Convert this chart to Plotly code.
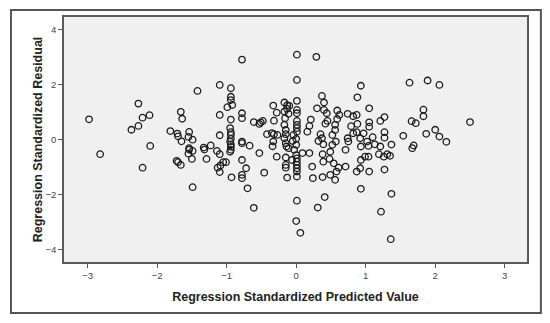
import plotly.graph_objects as go

# Regression Standardized Predicted Value (x) and Regression Standardized Residual (y)
pred = [
    -2.98, -2.82, -2.37, -2.27, -2.27, -2.21, -2.11, -2.10, -2.21,
    -1.81, -1.71, -1.70, -1.65, -1.66, -1.64, -1.54, -1.55, -1.49, -1.42,
    -1.54, -1.54, -1.49, -1.55, -1.50, -1.72, -1.70, -1.66, -1.49,
    -1.33, -1.32, -1.23, -1.29, -1.14, -1.10, -1.13, -1.09, -1.10, -1.05,
    -1.10, -1.10, -1.10,
    -0.94, -0.94, -0.94, -0.92, -0.99, -0.94, -0.95, -0.94, -0.94, -0.94,
    -0.95, -0.94, -0.94, -0.94, -0.95, -1.01, -0.93,
    -0.78, -0.78, -0.78, -0.78, -0.78, -0.67, -0.78, -0.72, -0.78, -0.78,
    -0.70, -0.61,
    -0.61, -0.53, -0.51, -0.48, -0.53, -0.46,
    -0.33, -0.28, -0.32, -0.42, -0.35, -0.32, -0.27, -0.33, -0.34, -0.28,
    -0.17, -0.13, -0.10, -0.13, -0.17, -0.11, -0.16, -0.17, -0.15, -0.15,
    -0.17, -0.15, -0.14, -0.11, -0.15, -0.15, -0.15, -0.13, -0.06, -0.04,
    -0.05,
    0.01, 0.01, 0.01, 0.01, 0.01, 0.01, 0.01, 0.01, 0.01, 0.00, 0.00,
    0.00, 0.01, 0.01, 0.01, 0.01, 0.01, 0.01, 0.01, 0.00, 0.06, 0.09,
    -0.03,
    0.16, 0.19, 0.21, 0.30, 0.29, 0.19, 0.23, 0.24, 0.31,
    0.37, 0.40, 0.40, 0.44, 0.45, 0.42, 0.35, 0.32, 0.37, 0.39, 0.38,
    0.39, 0.38, 0.41,
    0.52, 0.56, 0.56, 0.59, 0.59, 0.62, 0.57, 0.52, 0.49, 0.48, 0.49,
    0.54, 0.56, 0.58, 0.61,
    0.74, 0.79, 0.82, 0.87, 0.88, 0.93, 0.88, 0.82, 0.87, 0.74, 0.75,
    0.71, 0.71, 0.92, 0.97, 0.87, 0.92, 0.93, 0.93, 0.93, 1.02, 0.99,
    1.04, 1.05, 1.05, 1.05, 1.05, 1.10, 1.13, 1.19, 1.22, 1.21, 1.27,
    1.27, 1.27, 1.21, 1.26, 1.31, 1.35, 1.27, 1.37, 1.36, 1.37, 1.04,
    1.54, 1.66, 1.72, 1.83, 1.83, 1.63, 1.89, 2.06, 1.87, 2.00, 2.06,
    2.16, 2.50, 1.69, 1.67,
]
resid = [
    0.75, -0.52, 0.37, 0.51, 1.32, 0.81, 0.90, -0.22, -1.01,
    0.32, 0.23, 0.13, -0.05, 1.02, 0.77, 0.29, 0.11, 0.01, 1.78,
    -0.30, -0.35, -0.40, -0.50, -0.69, -0.76, -0.81, -0.91, -1.72,
    -0.28, -0.35, -0.20, -0.69, -0.40, -0.52, -1.01, -0.93, -1.17, -0.81,
    2.00, 0.91, 0.17,
    1.88, 1.57, 1.45, 1.27, 1.19, 0.74, 0.43, 0.28, 0.18, 0.04,
    -0.06, -0.16, -0.25, -0.36, -0.43, -0.81, -1.36,
    2.92, 0.97, 0.79, -0.06, -0.12, -0.21, -0.73, -1.03, -1.27, -1.39,
    -1.76, -2.47,
    0.65, 0.58, 0.64, 0.69, -0.48, -1.19,
    1.25, 0.99, 0.70, 0.21, 0.25, 0.21, 0.18, -0.06, -0.23, -0.61,
    1.36, 1.26, 1.24, 1.13, 1.03, 0.95, 0.79, 0.55, 0.36, 0.21,
    0.06, -0.12, -0.24, -0.30, -0.64, -0.91, -1.01, -1.37, -0.73, 0.18,
    -0.04,
    3.10, 2.18, 1.42, 1.09, 0.97, 0.69, 0.55, 0.43, 0.30, -0.18, 0.04,
    -0.55, -0.67, -0.79, -0.91, -1.03, -1.15, -1.33, -2.21, -2.95, -3.38, -0.48,
    -0.36,
    0.30, 0.51, 0.74, 1.15, 3.02, -0.48, -0.97, -1.39, -2.46,
    1.60, 1.36, 1.09, 0.97, 0.69, 0.59, 0.21, -0.04, 0.06, -0.16, -0.52,
    -0.79, -1.35, -2.08,
    0.18, 0.36, 0.55, 0.76, 1.07, 0.91, -0.06, -0.18, -0.43, -0.69, -1.27,
    -0.85, -1.45, -1.15, -1.01,
    0.95, 0.50, 0.86, 0.91, 1.55, 1.97, 0.58, 0.24, 0.28, 0.06, -0.06,
    -0.97, -0.36, 0.06, 0.24, -1.15, -1.03, -1.78, -0.73, -0.24, -0.06, -0.61,
    -0.61, -1.15, 1.15, 0.64, 0.48, 0.10, -0.16, -0.52, -2.61, 0.69, 0.83,
    0.28, 0.08, -0.24, -0.61, -0.52, -0.58, -1.08, -1.96, -3.61, -0.17, -0.22,
    0.15, 0.68, 0.61, 1.10, 0.86, 2.08, 2.16, 2.00, 0.22, 0.37, 0.12,
    -0.07, 0.65, -0.20, -0.30,
]

x_ticks = [-3, -2, -1, 0, 1, 2, 3]
y_ticks = [-4, -2, 0, 2, 4]
x_title = "Regression Standardized Predicted Value"
y_title = "Regression Standardized Residual"

FONT = "Liberation Sans, Arial, sans-serif"

fig = go.Figure(go.Scatter(
    x=pred, y=resid, mode="markers",
    marker=dict(symbol="circle-open", size=6.5, color="#1a1a1a",
                line=dict(width=1.3, color="#1a1a1a")),
    hoverinfo="x+y",
))

axis_common = dict(
    showgrid=False, zeroline=False, showline=True, mirror=True,
    linecolor="#5a5a5a", linewidth=1.5, automargin=False,
    ticks="outside", ticklen=4, tickwidth=1, tickcolor="#555",
    tickfont=dict(family=FONT, size=9.5, color="#444"),
)

# The page body adds an 8px offset, so the figure is sized/margined to compensate.
fig.update_layout(
    width=542, height=315,
    margin=dict(l=56, r=23, t=9, b=61),
    paper_bgcolor="white", plot_bgcolor="#f0f0f0",
    showlegend=False,
    xaxis=dict(range=[-3.34, 3.32], tickvals=x_ticks,
               title=dict(text=x_title, standoff=12,
                          font=dict(family=FONT, size=12.5, color="#222", weight="bold")),
               **axis_common),
    yaxis=dict(range=[-4.44, 4.47], tickvals=y_ticks,
               title=dict(text=y_title, standoff=0,
                          font=dict(family=FONT, size=12.5, color="#222", weight="bold")),
               **axis_common),
    shapes=[dict(type="rect", xref="paper", yref="paper",
                 x0=-0.1145, x1=1.030, y0=-0.208, y1=1.0286,
                 line=dict(color="#555", width=2), fillcolor="rgba(0,0,0,0)", layer="below")],
)

fig.write_html("out.html")
